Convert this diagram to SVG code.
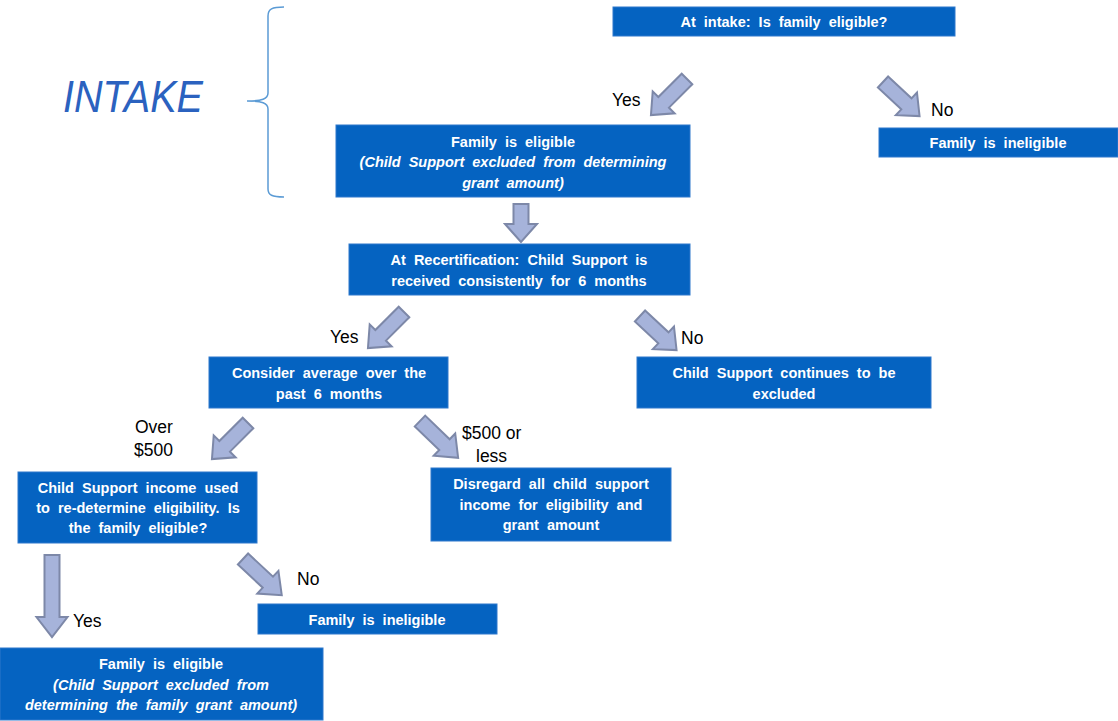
<svg xmlns="http://www.w3.org/2000/svg" width="1118" height="721" viewBox="0 0 1118 721">
<style>
.box{fill:#0563C1;stroke:#2E78CC;stroke-width:1}
.bt{fill:#fff;font-family:"Liberation Sans",Arial,sans-serif;font-size:14.5px;font-weight:bold;text-anchor:middle;word-spacing:4px}
.it{font-style:italic}
.lbl{fill:#000;font-family:"Liberation Sans",Arial,sans-serif;font-size:17.5px}
.arr{fill:#A6B3DA;stroke:#7D88A8;stroke-width:2;stroke-linejoin:miter}
</style>
<rect width="1118" height="721" fill="#fff"/>
<g id="intake-label">
<text x="63" y="112" font-family="'Liberation Sans',Arial,sans-serif" font-size="44" font-style="italic" fill="#2B62BF" textLength="140" lengthAdjust="spacingAndGlyphs">INTAKE</text>
<path d="M284,7 C272,7 268,9 268,16 L268,93 C268,99 262,101 247,101 C262,101 268,103 268,109 L268,189 C268,195 272,197 284,197" fill="none" stroke="#5B9BD5" stroke-width="1.5"/>
</g>
<g id="n1"><rect class="box" x="613" y="7" width="342" height="29"/><text class="bt" x="784" y="27">At intake: Is family eligible?</text></g>
<g id="n2"><rect class="box" x="336" y="125" width="354" height="72"/><text class="bt" x="513" y="147">Family is eligible</text><text class="bt it" x="513" y="167">(Child Support excluded from determining</text><text class="bt it" x="513" y="188">grant amount)</text></g>
<g id="n3"><rect class="box" x="879" y="128" width="239" height="29"/><text class="bt" x="998" y="148">Family is ineligible</text></g>
<g id="n4"><rect class="box" x="349" y="244" width="341" height="51"/><text class="bt" x="519" y="265">At Recertification: Child Support is</text><text class="bt" x="519" y="286">received consistently for 6 months</text></g>
<g id="n5"><rect class="box" x="209" y="357" width="239" height="51"/><text class="bt" x="329" y="378">Consider average over the</text><text class="bt" x="329" y="399">past 6 months</text></g>
<g id="n6"><rect class="box" x="637" y="357" width="294" height="51"/><text class="bt" x="784" y="378">Child Support continues to be</text><text class="bt" x="784" y="399">excluded</text></g>
<g id="n7"><rect class="box" x="18" y="472" width="239" height="71"/><text class="bt" x="138" y="493">Child Support income used</text><text class="bt" x="138" y="513">to re-determine eligibility. Is</text><text class="bt" x="138" y="533">the family eligible?</text></g>
<g id="n8"><rect class="box" x="431" y="468" width="240" height="73"/><text class="bt" x="551" y="489">Disregard all child support</text><text class="bt" x="551" y="510">income for eligibility and</text><text class="bt" x="551" y="530">grant amount</text></g>
<g id="n9"><rect class="box" x="258" y="604" width="239" height="30"/><text class="bt" x="377" y="625">Family is ineligible</text></g>
<g id="n10"><rect class="box" x="0" y="648" width="323" height="72"/><text class="bt" x="161" y="669">Family is eligible</text><text class="bt it" x="161" y="690">(Child Support excluded from</text><text class="bt it" x="161" y="710">determining the family grant amount)</text></g>
<g id="connectors">
<path class="arr" transform="translate(687,79) rotate(135)" d="M0,-7.5 L33,-7.5 L33,-15.5 L51,0 L33,15.5 L33,7.5 L0,7.5 Z"/>
<path class="arr" transform="translate(883,82) rotate(43)" d="M0,-7.5 L32,-7.5 L32,-15.5 L50,0 L32,15.5 L32,7.5 L0,7.5 Z"/>
<path class="arr" transform="translate(521,204) rotate(90)" d="M0,-7.5 L20,-7.5 L20,-16 L38,0 L20,16 L20,7.5 L0,7.5 Z"/>
<path class="arr" transform="translate(404,312) rotate(135)" d="M0,-7.5 L33,-7.5 L33,-15.5 L51,0 L33,15.5 L33,7.5 L0,7.5 Z"/>
<path class="arr" transform="translate(640,316) rotate(43)" d="M0,-7.5 L32,-7.5 L32,-15.5 L50,0 L32,15.5 L32,7.5 L0,7.5 Z"/>
<path class="arr" transform="translate(248,423) rotate(135)" d="M0,-7.5 L33,-7.5 L33,-15.5 L51,0 L33,15.5 L33,7.5 L0,7.5 Z"/>
<path class="arr" transform="translate(420,421) rotate(44)" d="M0,-7.5 L34,-7.5 L34,-15.5 L53,0 L34,15.5 L34,7.5 L0,7.5 Z"/>
<path class="arr" transform="translate(52,555) rotate(90)" d="M0,-7.5 L62,-7.5 L62,-15.5 L82,0 L62,15.5 L62,7.5 L0,7.5 Z"/>
<path class="arr" transform="translate(243,559) rotate(43)" d="M0,-7.5 L34,-7.5 L34,-15.5 L53,0 L34,15.5 L34,7.5 L0,7.5 Z"/>
<text class="lbl" x="612" y="106">Yes</text>
<text class="lbl" x="931" y="116">No</text>
<text class="lbl" x="330" y="343">Yes</text>
<text class="lbl" x="681" y="344">No</text>
<text class="lbl" x="135" y="433">Over</text>
<text class="lbl" x="134" y="456">$500</text>
<text class="lbl" x="462" y="439">$500 or</text>
<text class="lbl" x="476" y="462">less</text>
<text class="lbl" x="297" y="585">No</text>
<text class="lbl" x="73" y="627">Yes</text>
</g>
</svg>
